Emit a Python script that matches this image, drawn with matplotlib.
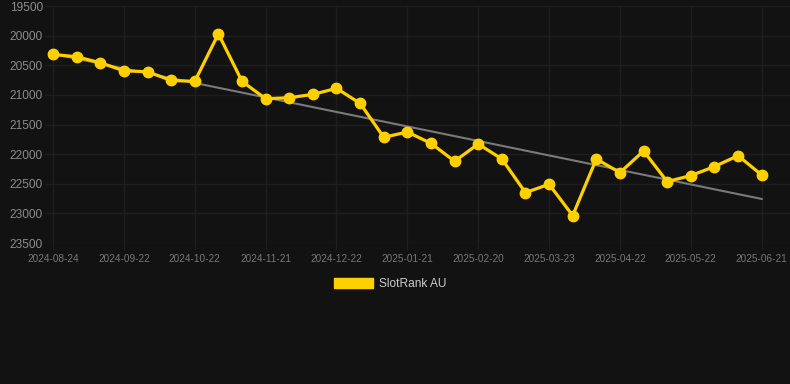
import matplotlib
matplotlib.use("Agg")
import matplotlib.pyplot as plt
from matplotlib.patches import Patch

# Data
dates = [
    "2024-08-24", "", "", "2024-09-22", "", "", "2024-10-22", "", "",
    "2024-11-21", "", "", "2024-12-22", "", "", "2025-01-21", "", "",
    "2025-02-20", "", "", "2025-03-23", "", "", "2025-04-22", "", "",
    "2025-05-22", "", "", "2025-06-21",
]
rank = [
    20315, 20355, 20456, 20591, 20608, 20754, 20770, 19967, 20770, 21063,
    21046, 20990, 20888, 21141, 21714, 21625, 21816, 22119, 21827, 22080,
    22648, 22507, 23036, 22080, 22311, 21945, 22462, 22361, 22209, 22024,
    22350,
]
trend_start = 20307
trend_end = 22755
y_ticks = [19500, 20000, 20500, 21000, 21500, 22000, 22500, 23000, 23500]

BG = "#121212"
YELLOW = "#FFD000"
GRID = "#1e1e1e"

plt.rcParams["font.family"] = ["Liberation Sans", "DejaVu Sans"]

fig = plt.figure(figsize=(7.9, 3.84), dpi=100, facecolor=BG)
ax = fig.add_axes([0.057, 0.367, 0.943, 0.617])
ax.set_facecolor(BG)

x = list(range(len(rank)))

# trend line
ax.plot([x[0], x[-1]], [trend_start, trend_end], color="#7a7a7a",
        linewidth=1.5, zorder=2)

ax.plot(x, rank, color=YELLOW, linewidth=2.3, marker="o", markersize=7.5,
        zorder=3)

ax.set_ylim(23500, 19500)
ax.set_xlim(-0.34, 31.2)
ax.set_yticks(y_ticks)
ax.set_yticklabels([str(v) for v in y_ticks])

tick_idx = [i for i, d in enumerate(dates) if d]
ax.set_xticks(tick_idx)
ax.set_xticklabels([dates[i] for i in tick_idx])

ax.tick_params(axis="y", colors="#8c8c8c", labelsize=8.6, length=0, pad=1.5)
ax.tick_params(axis="x", colors="#777777", labelsize=7.2, length=5,
               color=GRID, pad=3)
for lbl in ax.get_yticklabels():
    lbl.set_color("#8c8c8c")
for lbl in ax.get_xticklabels():
    lbl.set_color("#777777")

ax.grid(True, color=GRID, linewidth=1)
ax.set_axisbelow(True)
for s in ax.spines.values():
    s.set_visible(False)

handle = Patch(facecolor=YELLOW, edgecolor=YELLOW, label="SlotRank AU")
leg = fig.legend(handles=[handle], loc="center", bbox_to_anchor=(0.494, 1 - 284 / 384),
                 frameon=False, fontsize=8.6, handlelength=3.3, handleheight=1.0,
                 handletextpad=0.5)
for t in leg.get_texts():
    t.set_color("#cccccc")

fig.savefig("out.png", dpi=100, facecolor=BG)
